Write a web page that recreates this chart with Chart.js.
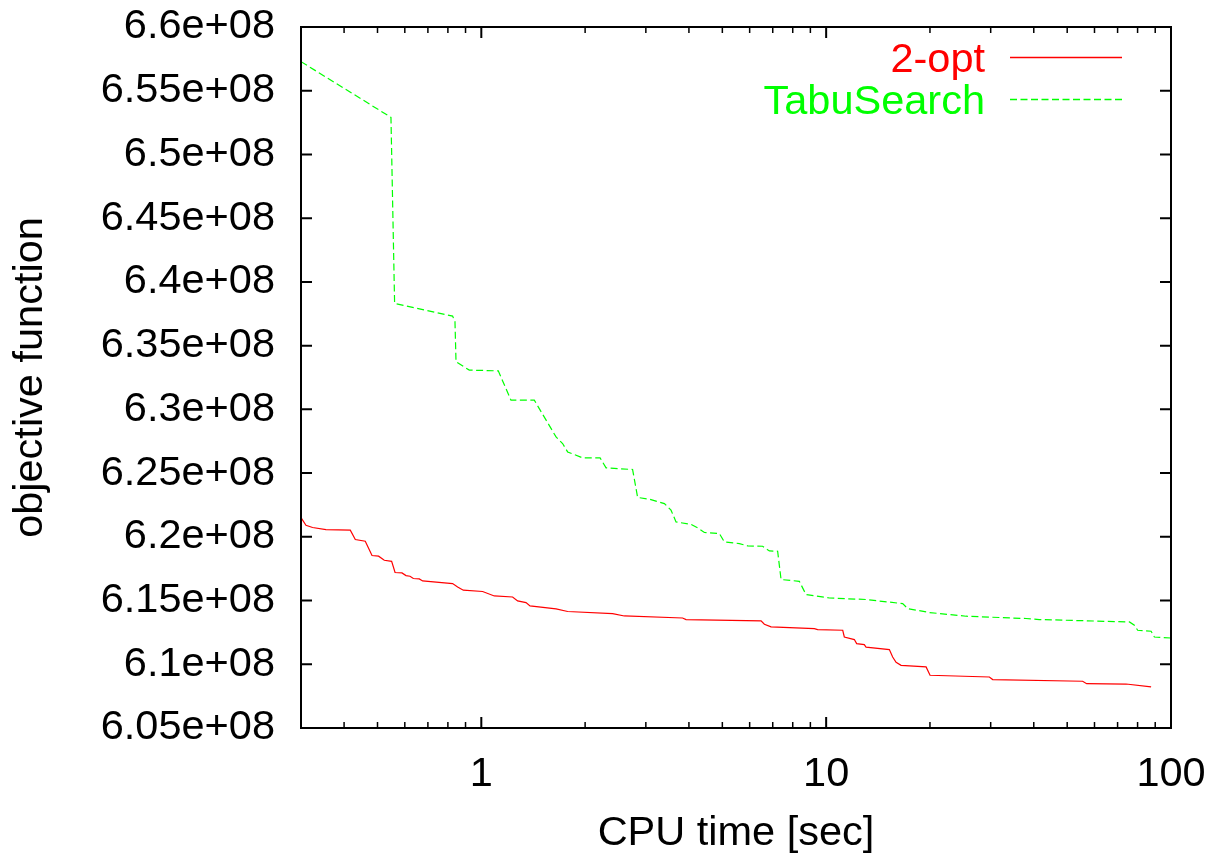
<!DOCTYPE html>
<html><head><meta charset="utf-8">
<script src="https://cdn.jsdelivr.net/npm/chart.js@4"></script>
<style>html,body{margin:0;padding:0;background:#fff}#wrap{width:1210px;height:853px}</style>
</head><body><div id="wrap"><canvas id="c" width="1210" height="853"></canvas></div>
<script>
const seriesNames = ['2-opt', 'TabuSearch'];
const seriesColors = ['#ff0000', '#00ff00'];

const optTime = [0.300, 0.3101, 0.3241, 0.3544, 0.4169, 0.4311, 0.4608, 0.4820, 0.5036, 0.5232,
  0.5495, 0.5622, 0.5888, 0.6048, 0.6212, 0.6351, 0.6610, 0.6758, 0.8256, 0.8537,
  0.8867, 1.0087, 1.0907, 1.2324, 1.2742, 1.3478, 1.3843, 1.647, 1.780, 2.403,
  2.598, 3.835, 3.924, 6.475, 6.620, 6.922, 9.242, 9.448, 11.17, 11.29,
  12.07, 12.26, 12.90, 13.05, 15.25, 15.59, 15.95, 16.49, 19.49, 20.01,
  29.74, 30.40, 55.44, 56.94, 74.10, 87.56];
const optObj = [6.2151e8, 6.2091e8, 6.2073e8, 6.2057e8, 6.2052e8, 6.1979e8, 6.1965e8, 6.1853e8, 6.1848e8, 6.1816e8,
  6.1808e8, 6.1720e8, 6.1717e8, 6.1696e8, 6.1691e8, 6.1673e8, 6.1670e8, 6.1654e8, 6.1633e8, 6.1607e8,
  6.1581e8, 6.1571e8, 6.1536e8, 6.1528e8, 6.1497e8, 6.1484e8, 6.1458e8, 6.1434e8, 6.1414e8, 6.1398e8,
  6.1379e8, 6.1363e8, 6.1351e8, 6.1340e8, 6.1314e8, 6.1293e8, 6.1280e8, 6.1272e8, 6.1267e8, 6.1214e8,
  6.1194e8, 6.1162e8, 6.1154e8, 6.1135e8, 6.1115e8, 6.1057e8, 6.1016e8, 6.0992e8, 6.0979e8, 6.0914e8,
  6.0900e8, 6.0880e8, 6.0867e8, 6.0848e8, 6.0845e8, 6.0822e8];

const tabuTime = [0.300, 0.547, 0.5605, 0.8256, 0.8388, 0.8446, 0.923, 1.120, 1.219, 1.4245,
  1.647, 1.721, 1.780, 1.967, 2.210, 2.300, 2.746, 2.840, 3.071, 3.395,
  3.549, 3.670, 4.057, 4.240, 4.435, 4.900, 5.067, 5.602, 5.920, 6.544,
  6.844, 7.233, 7.400, 8.360, 8.742, 10.22, 13.05, 16.67, 17.23, 19.92,
  25.45, 37.98, 41.52, 75.75, 78.31, 80.05, 87.56, 89.51, 100];
const tabuObj = [6.5728e8, 6.5291e8, 6.3831e8, 6.3732e8, 6.3687e8, 6.3373e8, 6.3308e8, 6.3302e8, 6.3072e8, 6.3072e8,
  6.2784e8, 6.2732e8, 6.2666e8, 6.2619e8, 6.2619e8, 6.2541e8, 6.2528e8, 6.2309e8, 6.2295e8, 6.2261e8,
  6.2209e8, 6.2117e8, 6.2097e8, 6.2070e8, 6.2034e8, 6.2026e8, 6.1960e8, 6.1947e8, 6.1929e8, 6.1926e8,
  6.1889e8, 6.1887e8, 6.1665e8, 6.1651e8, 6.1547e8, 6.1520e8, 6.1508e8, 6.1476e8, 6.1437e8, 6.1406e8,
  6.1377e8, 6.1359e8, 6.1351e8, 6.1332e8, 6.1306e8, 6.1267e8, 6.1259e8, 6.1214e8, 6.1206e8];

const xMajorTicks = [1, 10, 100];
const xTickLabels = ['1', '10', '100'];
const xMinorTicks = [0.4, 0.5, 0.6, 0.7, 0.8, 0.9, 2, 3, 4, 5, 6, 7, 8, 9, 20, 30, 40, 50, 60, 70, 80, 90];
const yTicks = [6.05e8, 6.1e8, 6.15e8, 6.2e8, 6.25e8, 6.3e8, 6.35e8, 6.4e8, 6.45e8, 6.5e8, 6.55e8, 6.6e8];
const yTickLabels = ['6.05e+08', '6.1e+08', '6.15e+08', '6.2e+08', '6.25e+08', '6.3e+08', '6.35e+08', '6.4e+08', '6.45e+08', '6.5e+08', '6.55e+08', '6.6e+08'];
const xTitle = 'CPU time [sec]';
const yTitle = 'objective function';

const FONT = 'Liberation Sans, Arial, Helvetica, sans-serif';
const FSIZE = 41.5;

const framePlugin = {
  id: 'frame',
  afterDatasetsDraw(chart) {
    const {ctx, chartArea: {left, right, top, bottom}, scales: {x, y}} = chart;
    ctx.save();
    ctx.setLineDash([]);
    ctx.strokeStyle = '#000';
    ctx.lineWidth = 2;
    ctx.beginPath();
    yTicks.forEach(v => {
      const py = y.getPixelForValue(v);
      ctx.moveTo(left, py); ctx.lineTo(left + 11, py);
      ctx.moveTo(right, py); ctx.lineTo(right - 11, py);
    });
    xMajorTicks.forEach(v => {
      const px = x.getPixelForValue(v);
      ctx.moveTo(px, bottom); ctx.lineTo(px, bottom - 11);
      ctx.moveTo(px, top); ctx.lineTo(px, top + 11);
    });
    ctx.stroke();
    ctx.lineWidth = 1.5;
    ctx.beginPath();
    xMinorTicks.forEach(v => {
      const px = x.getPixelForValue(v);
      ctx.moveTo(px, bottom); ctx.lineTo(px, bottom - 6);
      ctx.moveTo(px, top); ctx.lineTo(px, top + 6);
    });
    ctx.stroke();
    ctx.lineWidth = 2;
    ctx.strokeRect(left, top, right - left, bottom - top);

    // legend (gnuplot style: text right-aligned, sample line after it)
    ctx.font = FSIZE + 'px ' + FONT;
    ctx.textAlign = 'right';
    ctx.textBaseline = 'alphabetic';
    const rows = [57.5, 99.5];
    chart.data.datasets.forEach((ds, i) => {
      const cy = rows[i];
      const col = seriesColors[i];
      ctx.fillStyle = col;
      ctx.fillText(ds.label, 985, cy + 14.5);
      ctx.beginPath();
      ctx.strokeStyle = col;
      ctx.lineWidth = 1.5;
      ctx.setLineDash(i === 1 ? [7, 3.5] : []);
      ctx.moveTo(1010, cy); ctx.lineTo(1122, cy);
      ctx.stroke();
    });
    ctx.setLineDash([]);
    ctx.restore();
  }
};

new Chart(document.getElementById('c'), {
  type: 'line',
  data: {
    datasets: [
      {
        label: seriesNames[0],
        data: optTime.map((t, i) => ({x: t, y: optObj[i]})),
        borderColor: seriesColors[0],
        borderWidth: 1.2,
        pointRadius: 0,
        tension: 0,
        fill: false
      },
      {
        label: seriesNames[1],
        data: tabuTime.map((t, i) => ({x: t, y: tabuObj[i]})),
        borderColor: seriesColors[1],
        borderWidth: 1.2,
        borderDash: [7, 3.5],
        pointRadius: 0,
        tension: 0,
        fill: false
      }
    ]
  },
  options: {
    responsive: false,
    devicePixelRatio: 1,
    animation: false,
    layout: {padding: {left: 0, top: 27, right: 39, bottom: 0}},
    plugins: {legend: {display: false}, tooltip: {enabled: false}},
    scales: {
      x: {
        type: 'logarithmic',
        min: 0.3,
        max: 100,
        grid: {display: false, drawTicks: false},
        border: {display: false},
        afterBuildTicks: (s) => { s.ticks = xMajorTicks.map(v => ({value: v})); },
        afterFit: (s) => { s.height = 125; s.paddingLeft = 0; s.paddingRight = 0; s.paddingTop = 0; s.paddingBottom = 0; },
        ticks: {
          autoSkip: false, maxRotation: 0, minRotation: 0,
          padding: 22, color: '#000',
          font: {family: FONT, size: FSIZE},
          callback: (v, i) => xTickLabels[i]
        },
        title: {display: true, text: xTitle, color: '#000', font: {family: FONT, size: FSIZE, lineHeight: 0.95}, padding: {top: 0, bottom: 0}}
      },
      y: {
        type: 'linear',
        min: 6.05e8,
        max: 6.6e8,
        grid: {display: false, drawTicks: false},
        border: {display: false},
        afterBuildTicks: (s) => { s.ticks = yTicks.map(v => ({value: v})); },
        afterFit: (s) => { s.width = 301; s.paddingLeft = 0; s.paddingRight = 0; s.paddingTop = 0; s.paddingBottom = 0; },
        ticks: {
          autoSkip: false, padding: 26, color: '#000',
          font: {family: FONT, size: FSIZE},
          callback: (v, i) => yTickLabels[i]
        },
        title: {display: true, text: yTitle, color: '#000', font: {family: FONT, size: FSIZE}, padding: {top: 6, bottom: 0}}
      }
    }
  },
  plugins: [framePlugin]
});
</script>
</body></html>
